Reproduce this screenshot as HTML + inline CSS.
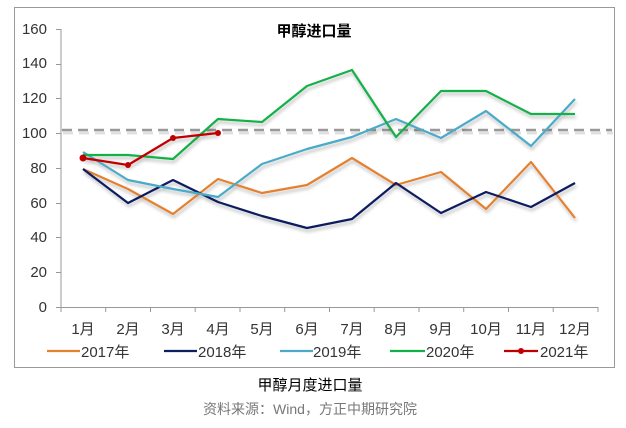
<!DOCTYPE html>
<html><head><meta charset="utf-8"><style>
body{margin:0;background:#fff;width:626px;height:423px;overflow:hidden}
svg text{font-family:"Liberation Sans","Noto Sans CJK SC",sans-serif}
</style></head><body>
<svg width="626" height="423" xmlns="http://www.w3.org/2000/svg">
<defs><filter id="sh" x="-5%" y="-5%" width="110%" height="120%"><feDropShadow dx="1" dy="3" stdDeviation="1.5" flood-color="#000" flood-opacity="0.25"/></filter></defs>
<rect x="14.5" y="7.5" width="600" height="360" fill="#fff" stroke="#999" stroke-width="1"/>
<text x="314" y="36" font-size="15" font-weight="bold" text-anchor="middle" fill="#000">甲醇进口量</text>
<g font-size="15" fill="#333" text-anchor="end">
<text x="47" y="312">0</text><text x="47" y="277">20</text><text x="47" y="242">40</text><text x="47" y="208">60</text><text x="47" y="173">80</text><text x="47" y="138">100</text><text x="47" y="103">120</text><text x="47" y="68">140</text><text x="47" y="34">160</text>
</g>
<g stroke="#999" stroke-width="1">
<line x1="61" y1="29" x2="61" y2="307"/>
<line x1="56" y1="29.5" x2="61" y2="29.5"/><line x1="56" y1="64.5" x2="61" y2="64.5"/><line x1="56" y1="98.5" x2="61" y2="98.5"/><line x1="56" y1="133.5" x2="61" y2="133.5"/><line x1="56" y1="168.5" x2="61" y2="168.5"/><line x1="56" y1="203.5" x2="61" y2="203.5"/><line x1="56" y1="237.5" x2="61" y2="237.5"/><line x1="56" y1="272.5" x2="61" y2="272.5"/>
<line x1="56" y1="307.5" x2="598" y2="307.5"/>
<line x1="61" y1="307" x2="61" y2="312"/><line x1="105.7" y1="307" x2="105.7" y2="312"/><line x1="150.5" y1="307" x2="150.5" y2="312"/><line x1="195.2" y1="307" x2="195.2" y2="312"/><line x1="240" y1="307" x2="240" y2="312"/><line x1="284.7" y1="307" x2="284.7" y2="312"/><line x1="329.5" y1="307" x2="329.5" y2="312"/><line x1="374.2" y1="307" x2="374.2" y2="312"/><line x1="419" y1="307" x2="419" y2="312"/><line x1="463.7" y1="307" x2="463.7" y2="312"/><line x1="508.5" y1="307" x2="508.5" y2="312"/><line x1="553.2" y1="307" x2="553.2" y2="312"/><line x1="598" y1="307" x2="598" y2="312"/>
</g>
<g font-size="15" fill="#333" text-anchor="middle">
<text x="83" y="334">1月</text><text x="128" y="334">2月</text><text x="173" y="334">3月</text><text x="218" y="334">4月</text><text x="262" y="334">5月</text><text x="307" y="334">6月</text><text x="352" y="334">7月</text><text x="396" y="334">8月</text><text x="441" y="334">9月</text><text x="486" y="334">10月</text><text x="531" y="334">11月</text><text x="575" y="334">12月</text>
</g>
<line x1="63" y1="133" x2="613" y2="133" stroke="#ccc" stroke-width="3" stroke-dasharray="10,6" opacity="0.6"/>
<line x1="62" y1="130" x2="612" y2="130" stroke="#999" stroke-width="2.5" stroke-dasharray="10,6"/>
<g fill="none" stroke-width="2.2" stroke-linejoin="round" filter="url(#sh)">
<polyline stroke="#e5802f" points="83,169 128,189 173,214 218,179 262,193 307,185 352,158 396,185 441,172 486,209 531,162 575,218"/>
<polyline stroke="#0c1f5e" points="83,169 128,203 173,180 218,202 262,216 307,228 352,219 396,183 441,213 486,192 531,207 575,183"/>
<polyline stroke="#4baac8" points="83,152 128,180 173,189 218,197 262,164 307,149 352,137 396,119 441,138 486,111 531,146 575,99"/>
<polyline stroke="#12b04a" points="83,155 128,155 173,159 218,119 262,122 307,86 352,70 396,137 441,91 486,91 531,114 575,114"/>
<polyline stroke="#c00000" points="83,158 128,165 173,138 218,133"/>
</g>
<g fill="#c00000"><circle cx="83" cy="158" r="3.5"/><circle cx="128" cy="165" r="3"/><circle cx="173" cy="138" r="3"/><circle cx="218" cy="133" r="3"/></g>
<g font-size="15" fill="#333">
<line x1="47" y1="351" x2="80" y2="351" stroke="#e5802f" stroke-width="2.2"/><text x="81" y="357">2017年</text>
<line x1="164" y1="351" x2="197" y2="351" stroke="#0c1f5e" stroke-width="2.2"/><text x="198" y="357">2018年</text>
<line x1="280" y1="351" x2="313" y2="351" stroke="#4baac8" stroke-width="2.2"/><text x="313" y="357">2019年</text>
<line x1="390" y1="351" x2="425" y2="351" stroke="#12b04a" stroke-width="2.2"/><text x="426" y="357">2020年</text>
<line x1="504" y1="351" x2="538" y2="351" stroke="#c00000" stroke-width="2.2"/><circle cx="521" cy="351" r="3" fill="#c00000"/><text x="540" y="357">2021年</text>
</g>
<text x="310" y="390" font-size="15" text-anchor="middle" fill="#000">甲醇月度进口量</text>
<text x="310" y="414" font-size="14" text-anchor="middle" fill="#777">资料来源：Wind，方正中期研究院</text>
</svg>
</body></html>
